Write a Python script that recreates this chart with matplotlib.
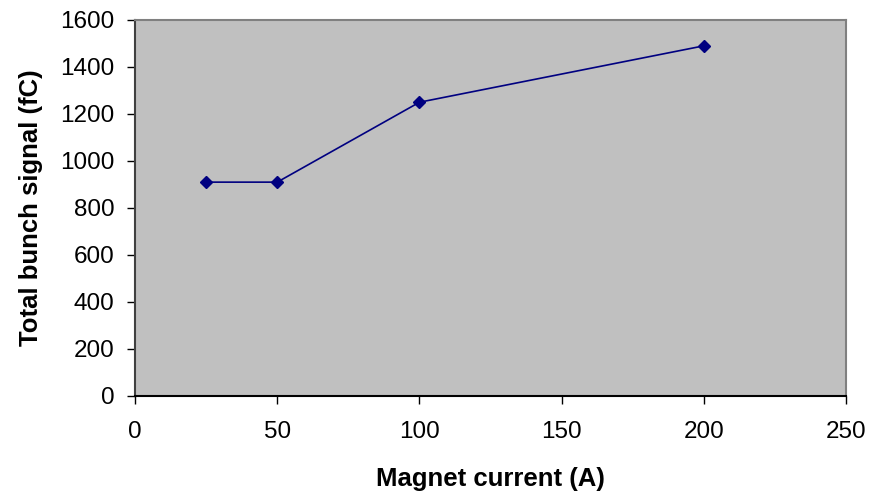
import matplotlib
matplotlib.use('Agg')
import matplotlib.pyplot as plt

plt.rcParams['font.family'] = ['Liberation Sans', 'DejaVu Sans']

# magnet current (A) vs total bunch signal (fC)
current = [25, 50, 100, 200]
signal = [910, 910, 1250, 1490]

fig = plt.figure(figsize=(8.77, 4.91), dpi=100)
ax = fig.add_axes([0.154, 0.1935, 0.8107, 0.7658])
ax.set_facecolor('#c0c0c0')

ax.plot(current, signal, color='#000080', linewidth=1.2, marker='D',
        markersize=6, markerfacecolor='#000080', markeredgecolor='#000080')

ax.set_xlim(0, 250)
ax.set_ylim(0, 1600)
ax.set_xticks(range(0, 251, 50))
ax.set_yticks(range(0, 1601, 200))
ax.tick_params(labelsize=17.5, length=6, width=1, direction='out')
ax.tick_params(axis='y', pad=9)
ax.tick_params(axis='x', pad=12)

ax.spines['top'].set_color('#808080')
ax.spines['right'].set_color('#808080')
ax.spines['left'].set_color('#404040')
ax.spines['bottom'].set_color('black')
for s in ax.spines.values():
    s.set_linewidth(1.5)

ax.set_xlabel('Magnet current (A)', fontsize=18.5, fontweight='bold', labelpad=17)
ax.set_ylabel('Total bunch signal (fC)', fontsize=18.5, fontweight='bold', labelpad=12)

fig.savefig('out.png', dpi=100)
